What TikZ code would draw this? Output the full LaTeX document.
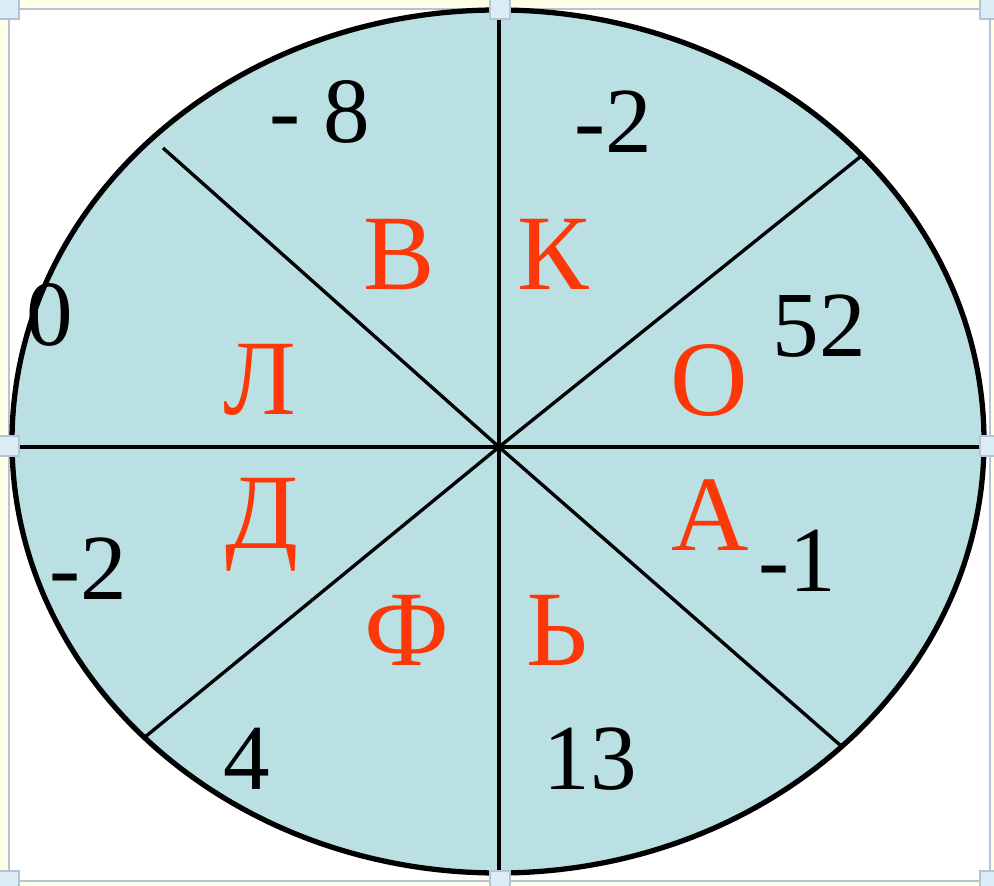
\documentclass[tikz,border=0pt]{standalone}
\usepackage{fontspec}
\setmainfont{Liberation Serif}
\definecolor{bgyellow}{RGB}{255,255,232}
\definecolor{framecol}{RGB}{180,196,212}
\definecolor{handlecol}{RGB}{220,236,246}
\definecolor{sectorfill}{RGB}{187,224,227}
\definecolor{letterred}{RGB}{252,56,8}
\tikzset{
  letter/.style={anchor=base, inner sep=0pt, text=letterred, font=\fontsize{30.5}{33}\selectfont},
  num/.style={anchor=base, inner sep=0pt, text=black, font=\fontsize{26.5}{29}\selectfont},
  handle/.style={draw=framecol, fill=handlecol, line width=0.4pt, minimum size=2mm, inner sep=0pt, shape=rectangle},
  spoke/.style={line width=0.95pt, draw=black},
}
\begin{document}
\begin{tikzpicture}[x=0.01cm, y=-0.01cm]
\useasboundingbox (0,0) rectangle (994,886);
\fill[bgyellow] (0,0) rectangle (994,886);
\draw[framecol, fill=white, line width=0.6pt] (9,9) rectangle (990,881);
% ellipse fill
\fill[sectorfill] (498,441.5) ellipse [x radius=486, y radius=431.5];
\coordinate (c) at (499,447);
\coordinate (top) at (499,10);
\coordinate (bot) at (499,873);
\coordinate (lft) at (12,447);
\coordinate (rgt) at (984,447);
\coordinate (ul) at (163,148);
\coordinate (ur) at (860,157);
\coordinate (ll) at (145,737);
\coordinate (lr) at (840,745);
\draw[spoke] (top) -- (bot);
\draw[spoke] (lft) -- (rgt);
\draw[spoke] (ul) -- (c) -- (lr);
\draw[spoke] (ur) -- (c) -- (ll);
\draw[line width=1.5pt] (498,441.5) ellipse [x radius=486, y radius=431.5];
% handles
\node[handle] (h1) at (9,9) {};
\node[handle] (h2) at (500,9) {};
\node[handle] (h3) at (990,9) {};
\node[handle] (h4) at (9,446) {};
\node[handle] (h5) at (990,446) {};
\node[handle] (h6) at (9,881) {};
\node[handle] (h7) at (500,881) {};
\node[handle] (h8) at (990,881) {};
% letters
\node[letter] (lB) at (399,290) {В};
\node[letter] (lK) at (553,290) {К};
\node[letter] (lL) at (260,415) {Л};
\node[letter] (lO) at (709,416) {О};
\node[letter] (lD) at (262,549) {Д};
\node[letter] (lA) at (710,551) {А};
\node[letter] (lF) at (407,666) {Ф};
\node[letter] (lS) at (557,666) {Ь};
% numbers
\node[num] (n1) at (320,143) {- 8};
\node[num] (n2) at (613,153) {-2};
\node[num] (n3) at (819,357) {52};
\node[num] (n4) at (797,592) {-1};
\node[num] (n5) at (88,600) {-2};
\node[num] (n6) at (247,790) {4};
\node[num] (n7) at (590,790) {13};
\node[num] (n8) at (50,346) {0};
\end{tikzpicture}
\end{document}
